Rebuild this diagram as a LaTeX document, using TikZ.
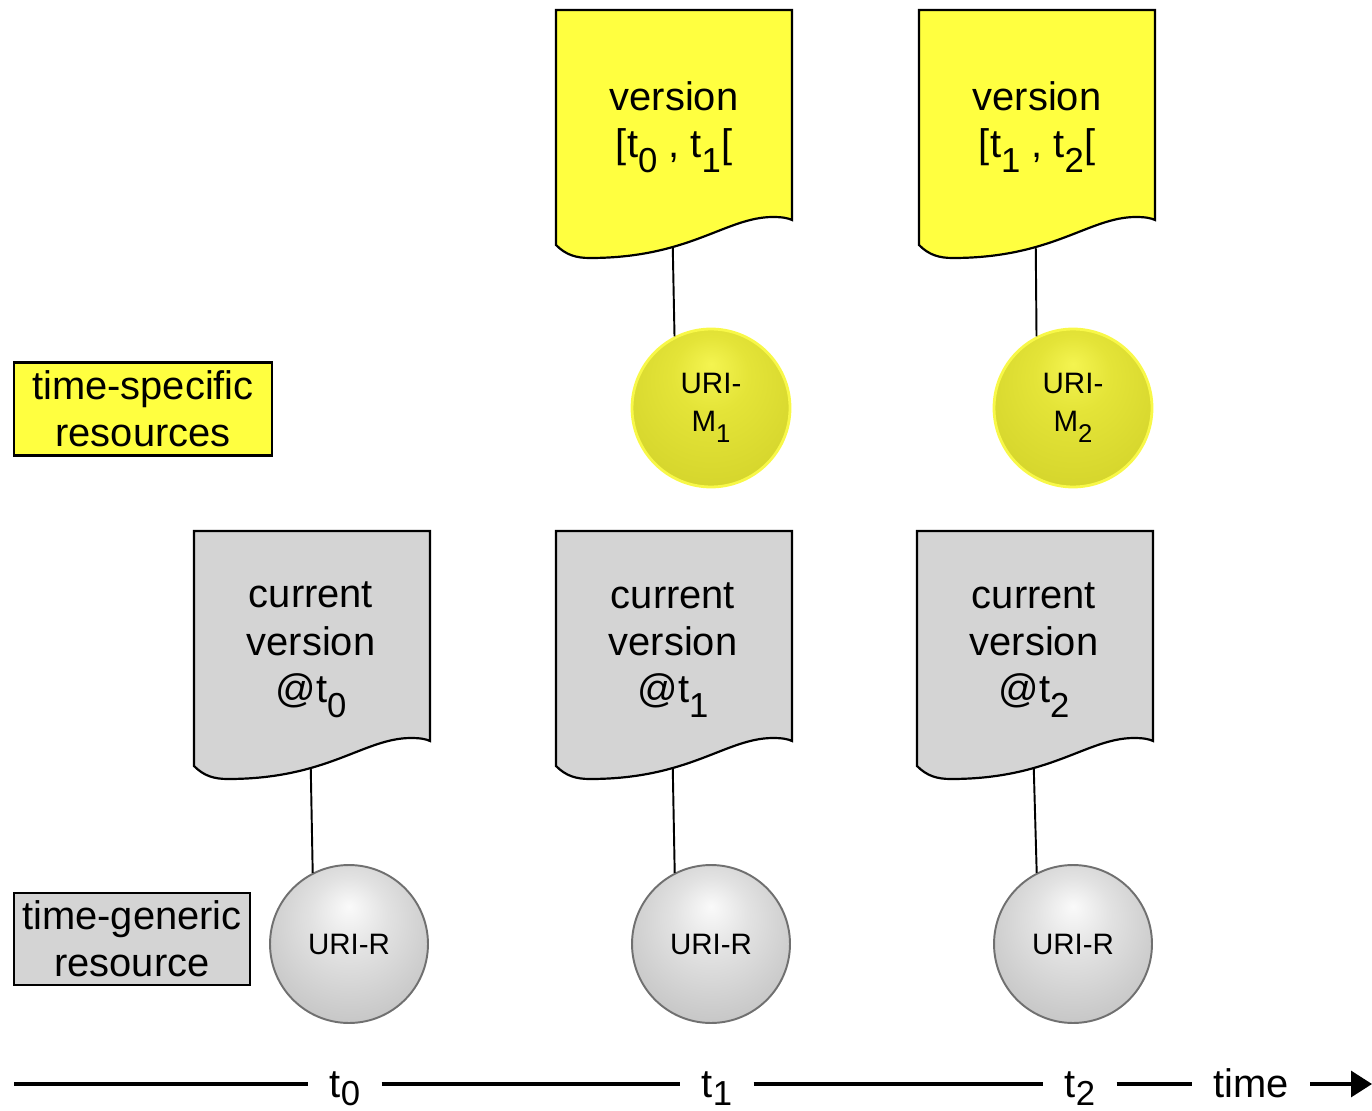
\documentclass[tikz,border=0pt]{standalone}
\usepackage{fontspec}
\usepackage{graphicx}
\setmainfont{Liberation Sans}
\usetikzlibrary{arrows.meta}

\definecolor{giallo}{RGB}{255,255,64}
\definecolor{grigio}{RGB}{212,212,212}
\definecolor{bordogiallo}{RGB}{248,248,72}
\definecolor{bordogrigio}{RGB}{112,112,112}
\definecolor{gialloluce}{RGB}{244,244,80}
\definecolor{giallomedio}{RGB}{228,228,56}
\definecolor{gialloscuro}{RGB}{208,208,40}
\definecolor{grigioluce}{RGB}{250,250,250}
\definecolor{grigiomedio}{RGB}{226,226,226}
\definecolor{grigioscuro}{RGB}{188,188,188}

\pgfdeclareradialshading{pallagialla}{\pgfpoint{0bp}{14bp}}{color(0bp)=(gialloluce); color(12bp)=(giallomedio); color(38bp)=(gialloscuro); color(50bp)=(gialloscuro)}
\pgfdeclareradialshading{pallagrigia}{\pgfpoint{0bp}{12bp}}{color(0bp)=(grigioluce); color(12bp)=(grigiomedio); color(37bp)=(grigioscuro); color(50bp)=(grigioscuro)}

\newcommand{\pedice}[2][0.37em]{\raisebox{-#1}{\scalebox{0.87}{#2}}}

\tikzset{
  pics/documento/.style={code={
    \draw[line width=1.25pt, fill=#1] (0,0) -- (236,0) -- (236,210)
      .. controls (232,208) and (226,207) .. (217,207)
      .. controls (170,207) and (134,248) .. coordinate[pos=0.66] (-b) (34,248)
      .. controls (20,248) and (10,245) .. (0,235) -- cycle;
  }},
  testo/.style={align=center, font=\fontsize{22.7}{27}\selectfont},
  uri/.style={circle, minimum size=3.16cm, inner sep=0pt, align=center,
    font=\fontsize{16.8}{21.5}\selectfont},
  palla gialla/.style={uri, shade, shading=pallagialla, draw=bordogiallo, line width=1.6pt},
  palla grigia/.style={uri, shade, shading=pallagrigia, draw=bordogrigio, line width=1.1pt},
  legenda/.style={testo, draw, line width=1.3pt},
  tacca/.style={font=\fontsize{22.7}{27}\selectfont, text height=0.82cm,
    text depth=0.3cm, inner xsep=0.42cm, inner ysep=0pt},
  filo/.style={line width=1.1pt},
  linea/.style={line width=1.8pt},
}

\begin{document}
\begin{tikzpicture}[x=0.02cm, y=-0.02cm]
\useasboundingbox (0,0) rectangle (1372,1111);

% Documenti gialli (versioni)
\pic (v1) at (556,10) {documento=giallo};
\pic (v2) at (919,10) {documento=giallo};
\node[testo] (tv1) at (674,127) {version\\{}[t\pedice{0} , t\pedice{1}[};
\node[testo] (tv2) at (1037,127) {version\\{}[t\pedice{1} , t\pedice{2}[};

% Documenti grigi (versione corrente)
\pic (c0) at (194,531) {documento=grigio};
\pic (c1) at (556,531) {documento=grigio};
\pic (c2) at (917,531) {documento=grigio};
\node[testo] (tc0) at (311,650) {current\\version\\@t\pedice{0}};
\node[testo] (tc1) at (673,650) {current\\version\\@t\pedice{1}};
\node[testo] (tc2) at (1034,650) {current\\version\\@t\pedice{2}};

% URI
\node[palla gialla] (M1) at (711,408) {URI-\\M\pedice{1}};
\node[palla gialla] (M2) at (1073,408) {URI-\\M\pedice{2}};
\node[palla grigia] (R0) at (349,944) {URI-R};
\node[palla grigia] (R1) at (711,944) {URI-R};
\node[palla grigia] (R2) at (1073,944) {URI-R};

% Collegamenti
\draw[filo] (v1-b) -- (M1.117);
\draw[filo] (v2-b) -- (M2.117);
\draw[filo] (c0-b) -- (R0.117);
\draw[filo] (c1-b) -- (R1.117);
\draw[filo] (c2-b) -- (R2.117);

% Legenda
\node[legenda, fill=giallo, minimum width=5.16cm, minimum height=1.86cm] (ls) at (143,409) {time-specific\\resources};
\node[legenda, fill=grigio, minimum width=4.72cm, minimum height=1.84cm] (lg) at (132,939) {time-generic\\resource};

% Asse dei tempi
\coordinate (inizio) at (14,1084);
\coordinate (fine) at (1372,1084);
\node[tacca] (t0) at (345,1084) {t\pedice[0.22em]{0}};
\node[tacca] (t1) at (717,1084) {t\pedice[0.22em]{1}};
\node[tacca] (t2) at (1080,1084) {t\pedice[0.22em]{2}};
\node[tacca] (tempo) at (1251,1084) {time};
\draw[linea] (inizio) -- (t0) -- (t1) -- (t2) -- (tempo);
\draw[linea, -{Triangle[length=0.42cm, width=0.52cm]}] (tempo) -- (fine);

\end{tikzpicture}
\end{document}
